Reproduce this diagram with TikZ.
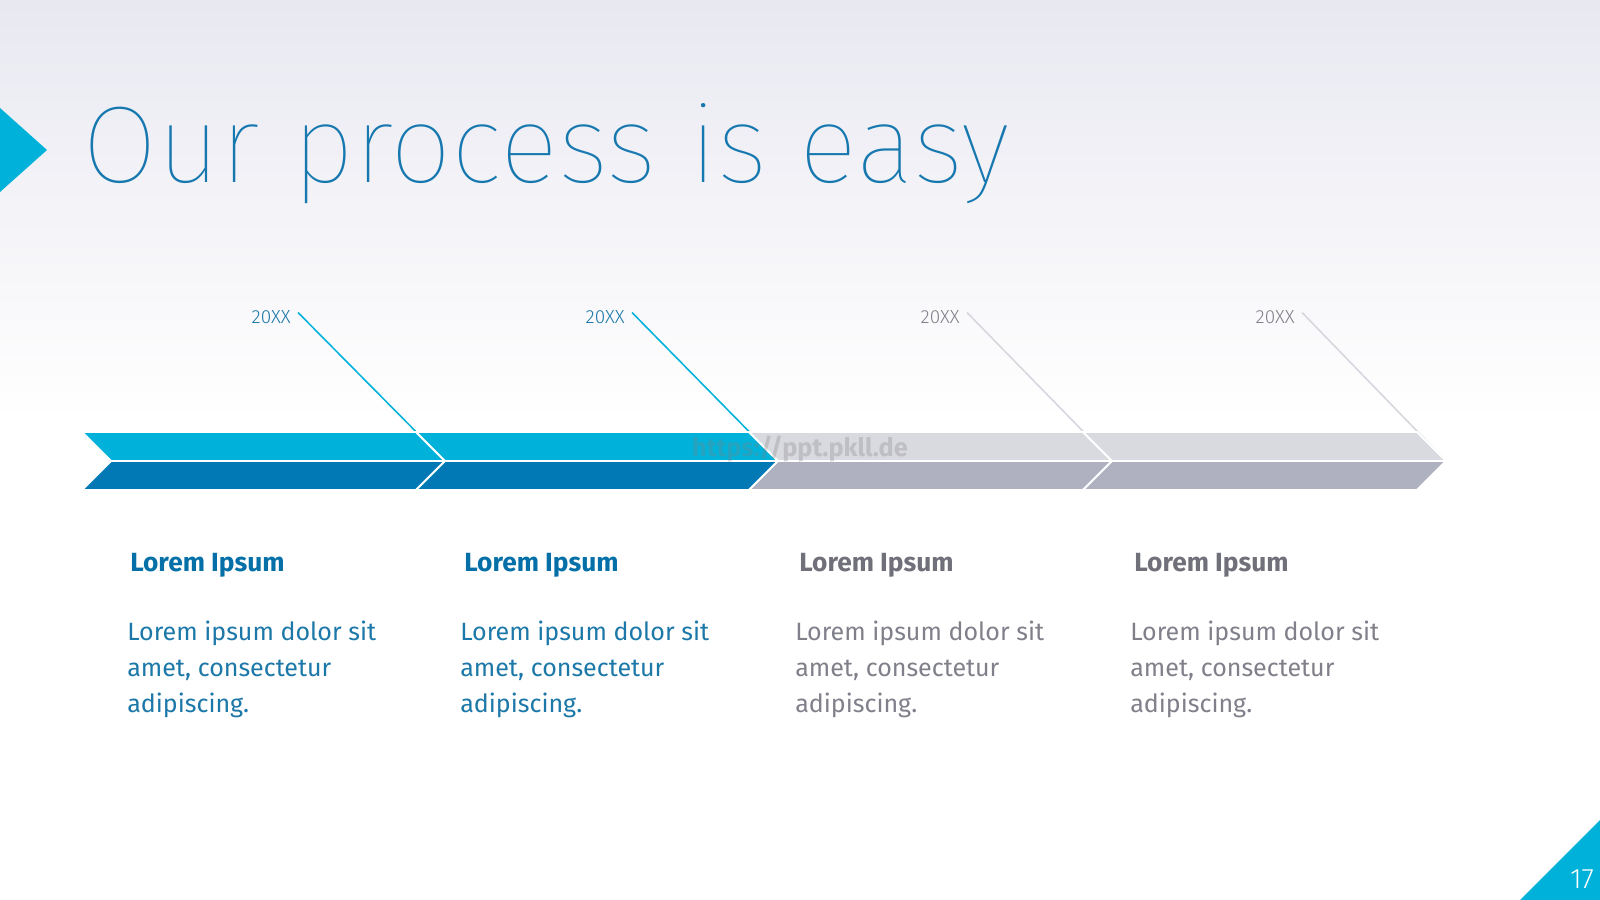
\documentclass[tikz,border=0pt]{standalone}
\usepackage{fontspec}
\setmainfont{Fira Sans}
\newfontfamily\titlefont{Fira Sans Thin}
\newfontfamily\lightfont{Fira Sans Light}
\definecolor{bgtop}{RGB}{232,232,241}
\definecolor{cyanA}{RGB}{0,178,218}
\definecolor{blueB}{RGB}{0,121,180}
\definecolor{grayA}{RGB}{217,218,224}
\definecolor{grayB}{RGB}{176,177,192}
\definecolor{titleblue}{RGB}{22,120,175}
\definecolor{headblue}{RGB}{5,112,168}
\definecolor{textblue}{RGB}{28,120,168}
\definecolor{headgray}{RGB}{112,112,122}
\definecolor{textgray}{RGB}{128,128,138}
\definecolor{linegray}{RGB}{214,214,222}
\begin{document}
\begin{tikzpicture}[x=0.025cm,y=-0.025cm,
  band/.style={draw=white,line width=1.4pt},
  year/.style={font=\lightfont\fontsize{13.5}{15}\selectfont,anchor=base east,inner sep=0pt},
  head/.style={font=\bfseries\fontsize{18.7}{22}\selectfont,anchor=base west,inner sep=0pt},
  body/.style={font=\fontsize{17.8}{25.5}\selectfont,align=left,anchor=north west,inner sep=0pt},
  pointer/.style={line width=1.1pt}]
\useasboundingbox (0,0) rectangle (1600,900);

% background
\fill[white] (0,0) rectangle (1600,900);
\fill[top color=bgtop,bottom color=white] (0,0) rectangle (1600,420);
\fill[cyanA] (0,108) -- (47,150) -- (0,192) -- cycle;
\fill[cyanA] (1520,900) -- (1600,820) -- (1600,900) -- cycle;

\node[font=\titlefont\fontsize{77.6}{80}\selectfont,text=titleblue,anchor=base west,inner sep=0pt] (title) at (82,183) {Our process is easy};
\node[font=\lightfont\fontsize{20}{22}\selectfont,text=white,inner sep=0pt] (page) at (1582,879) {17};

% chevron tips
\coordinate (t1) at (445,461);
\coordinate (t2) at (778,461);
\coordinate (t3) at (1112,461);
\coordinate (t4) at (1446,461);

\node[year,text=textblue] (y1) at (291,323) {20XX};
\node[year,text=textblue] (y2) at (625,323) {20XX};
\node[year,text=textgray] (y3) at (960,323) {20XX};
\node[year,text=textgray] (y4) at (1295,323) {20XX};

\draw[pointer,cyanA] ([xshift=5pt,yshift=-2pt]y1.north east) -- (t1);
\draw[pointer,cyanA] ([xshift=5pt,yshift=-2pt]y2.north east) -- (t2);
\draw[pointer,linegray] ([xshift=5pt,yshift=-2pt]y3.north east) -- (t3);
\draw[pointer,linegray] ([xshift=5pt,yshift=-2pt]y4.north east) -- (t4);

% bands
\filldraw[band,fill=cyanA] (82,432) -- (416,432) -- (t1) -- (111,461) -- cycle;
\filldraw[band,fill=blueB] (111,461) -- (t1) -- (416,490) -- (82,490) -- cycle;
\filldraw[band,fill=cyanA] (416,432) -- (749,432) -- (t2) -- (t1) -- cycle;
\filldraw[band,fill=blueB] (t1) -- (t2) -- (749,490) -- (416,490) -- cycle;
\filldraw[band,fill=grayA] (749,432) -- (1083,432) -- (t3) -- (t2) -- cycle;
\filldraw[band,fill=grayB] (t2) -- (t3) -- (1083,490) -- (749,490) -- cycle;
\filldraw[band,fill=grayA] (1083,432) -- (1417,432) -- (t4) -- (t3) -- cycle;
\filldraw[band,fill=grayB] (t3) -- (t4) -- (1417,490) -- (1083,490) -- cycle;

\node[font=\bfseries\fontsize{18}{20}\selectfont,text=gray,opacity=0.3,inner sep=0pt] (wm) at (800,449) {https://ppt.pkll.de};

% columns
\node[head,text=headblue] (h1) at (130,571) {Lorem Ipsum};
\node[head,text=headblue] (h2) at (464,571) {Lorem Ipsum};
\node[head,text=headgray] (h3) at (799,571) {Lorem Ipsum};
\node[head,text=headgray] (h4) at (1134,571) {Lorem Ipsum};

\node[body,text=textblue] (b1) at (127,621) {Lorem ipsum dolor sit\\amet, consectetur\\adipiscing.};
\node[body,text=textblue] (b2) at (460,621) {Lorem ipsum dolor sit\\amet, consectetur\\adipiscing.};
\node[body,text=textgray] (b3) at (795,621) {Lorem ipsum dolor sit\\amet, consectetur\\adipiscing.};
\node[body,text=textgray] (b4) at (1130,621) {Lorem ipsum dolor sit\\amet, consectetur\\adipiscing.};
\end{tikzpicture}
\end{document}
